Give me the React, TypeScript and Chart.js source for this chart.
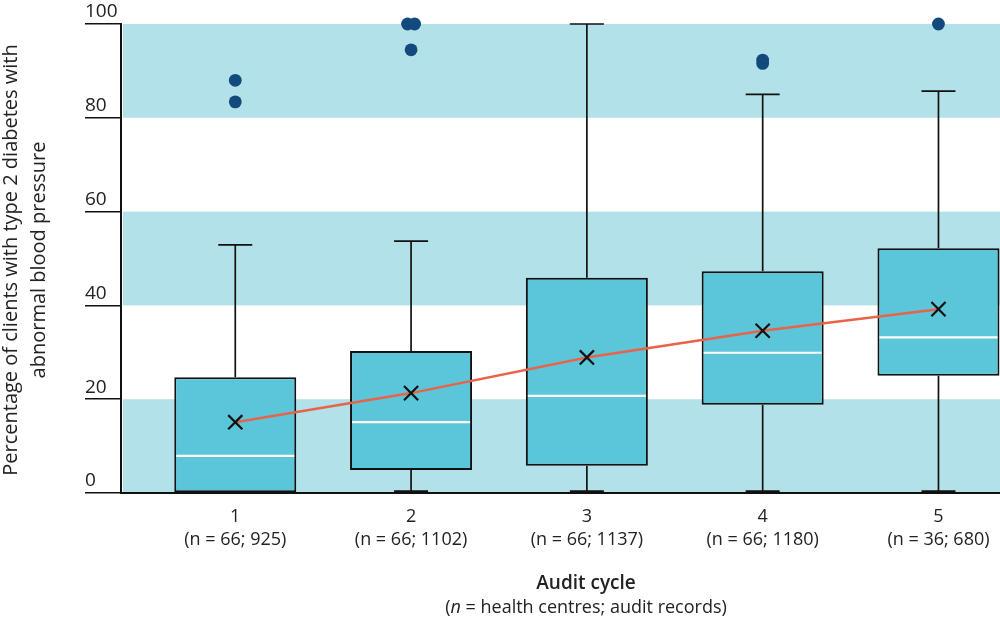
import React, { useEffect, useRef } from "react";
import { Chart, registerables } from "chart.js";

Chart.register(...registerables);

// ---- Data ----
const CATEGORIES = [1, 2, 3, 4, 5];
const CATEGORY_NOTES = ["66; 925", "66; 1102", "66; 1137", "66; 1180", "36; 680"];
const Q1 = [0, 4.9, 5.8, 18.8, 25.0];
const Q3 = [24.7, 30.3, 45.9, 47.3, 52.2];
const MEDIAN = [7.9, 15.1, 20.7, 29.9, 33.2];
const MEAN = [15.1, 21.3, 28.9, 34.6, 39.2];
const WHISKER_LOW = [0, 0, 0, 0, 0];
const WHISKER_HIGH = [52.9, 53.7, 100, 85.0, 85.7];
const OUTLIER_X = [1, 1, 1.98, 2.02, 2, 4, 4, 5];
const OUTLIER_Y = [88.0, 83.4, 100, 100, 94.5, 92.3, 91.6, 100];
const BANDS = [
  [0, 20],
  [40, 60],
  [80, 100],
];
const Y_TICKS = [0, 20, 40, 60, 80, 100];
const X_MIN = 0.35;
const X_MAX = 5.35;

const FONT = "'Open Sans', 'DejaVu Sans', sans-serif";

export default function App() {
  const ref = useRef<HTMLCanvasElement | null>(null);

  useEffect(() => {
    if (!ref.current) return;

    const bandPlugin = {
      id: "bands",
      beforeDraw(chart: any) {
        const { ctx, chartArea, scales } = chart;
        const y = scales.y;
        ctx.save();
        ctx.fillStyle = "#b3e1e9";
        BANDS.forEach(([a, b]) => {
          const y1 = y.getPixelForValue(b);
          const y2 = y.getPixelForValue(a);
          ctx.fillRect(chartArea.left + 2, y1, chartArea.right - chartArea.left - 2, y2 - y1);
        });
        ctx.restore();
      },
    };

    const whiskerPlugin = {
      id: "whiskers",
      beforeDatasetsDraw(chart: any) {
        const { ctx, scales } = chart;
        const xs = scales.x;
        const ys = scales.y;
        const capHalf = 17;
        ctx.save();
        ctx.strokeStyle = "#111";
        ctx.lineWidth = 1.7;
        CATEGORIES.forEach((c, i) => {
          const x = xs.getPixelForValue(c);
          const segs: [number, number][] = [];
          if (WHISKER_HIGH[i] > Q3[i]) segs.push([Q3[i], WHISKER_HIGH[i]]);
          if (WHISKER_LOW[i] < Q1[i]) segs.push([Q1[i], WHISKER_LOW[i]]);
          segs.forEach(([from, to]) => {
            const y1 = ys.getPixelForValue(from);
            const y2 = ys.getPixelForValue(to);
            ctx.beginPath();
            ctx.moveTo(x, y1);
            ctx.lineTo(x, y2);
            ctx.stroke();
            ctx.beginPath();
            ctx.lineWidth = to === 0 ? 2.5 : 1.7;
            ctx.moveTo(x - capHalf, to === 0 ? y2 - 1.5 : y2);
            ctx.lineTo(x + capHalf, to === 0 ? y2 - 1.5 : y2);
            ctx.stroke();
            ctx.lineWidth = 1.7;
          });
        });
        ctx.restore();
      },
      afterDatasetDraw(chart: any, args: any) {
        if (args.index !== 0) return;
        const { ctx, scales } = chart;
        const ys = scales.y;
        const meta = chart.getDatasetMeta(0);
        ctx.save();
        ctx.strokeStyle = "#ffffff";
        ctx.lineWidth = 2.2;
        meta.data.forEach((bar: any, i: number) => {
          const y = ys.getPixelForValue(MEDIAN[i]);
          ctx.beginPath();
          ctx.moveTo(bar.x - bar.width / 2 + 2, y);
          ctx.lineTo(bar.x + bar.width / 2 - 2, y);
          ctx.stroke();
        });
        ctx.restore();
      },
    };

    const chart = new Chart(ref.current, {
      type: "bar",
      data: {
        datasets: [
          {
            type: "bar",
            data: CATEGORIES.map((c, i) => ({ x: c, y: [Q1[i], Q3[i]] })) as any,
            backgroundColor: "#5bc6d9",
            borderColor: "#111",
            borderWidth: 2,
            borderSkipped: false,
            barPercentage: 1,
            categoryPercentage: 0.694,
            order: 3,
          } as any,
          {
            type: "line",
            data: CATEGORIES.map((c, i) => ({ x: c, y: MEAN[i] })),
            borderColor: "#e8634a",
            borderWidth: 2.5,
            pointStyle: "crossRot",
            pointRadius: 10,
            pointBorderColor: "#111",
            pointBorderWidth: 2.2,
            pointBackgroundColor: "rgba(0,0,0,0)",
            tension: 0,
            order: 2,
          } as any,
          {
            type: "scatter",
            data: OUTLIER_X.map((x, i) => ({ x, y: OUTLIER_Y[i] })),
            backgroundColor: "#134a7c",
            borderColor: "#134a7c",
            borderWidth: 0,
            pointRadius: 6.4,
            clip: false,
            order: 1,
          } as any,
        ],
      },
      options: {
        animation: false,
        responsive: false,
        layout: { autoPadding: false, padding: { left: 85, top: 24, right: 0, bottom: 0 } },
        plugins: {
          legend: { display: false },
          tooltip: { enabled: false },
        },
        scales: {
          x: {
            type: "linear",
            min: X_MIN,
            max: X_MAX,
            offset: false,
            afterBuildTicks: (scale: any) => {
              scale.ticks = CATEGORIES.map((v) => ({ value: v }));
            },
            afterFit: (scale: any) => {
              scale.height = 126;
              scale.paddingLeft = 0;
              scale.paddingRight = 0;
            },
            grid: { display: false, drawTicks: false, offset: false },
            border: { display: true, color: "#111", width: 2 },
            ticks: {
              autoSkip: false,
              maxRotation: 0,
              padding: 12,
              color: "#222",
              font: { family: FONT, size: 18, lineHeight: 1.28 },
              callback: (v: any) => {
                const i = CATEGORIES.indexOf(Number(v));
                if (i < 0) return "";
                return [String(CATEGORIES[i]), "(n = " + CATEGORY_NOTES[i] + ")"];
              },
            },
          },
          y: {
            type: "linear",
            min: 0,
            max: 100,
            afterBuildTicks: (scale: any) => {
              scale.ticks = Y_TICKS.map((v) => ({ value: v }));
            },
            afterFit: (scale: any) => {
              scale.width = 36;
              scale.paddingTop = 0;
              scale.paddingBottom = 0;
            },
            grid: {
              drawOnChartArea: false,
              drawTicks: true,
              tickLength: 36,
              color: "#111",
              lineWidth: 1.5,
            },
            border: { display: true, color: "#111", width: 2 },
            ticks: {
              crossAlign: "far",
              labelOffset: -12,
              padding: 0,
              color: "#222",
              font: { family: FONT, size: 19 },
            },
          },
        },
      } as any,
      plugins: [bandPlugin, whiskerPlugin],
    });

    return () => chart.destroy();
  }, []);

  return (
    <div style={{ position: "absolute", left: 0, top: 0, width: 1000, height: 619, background: "#fff" }}>
      <canvas ref={ref} width={1000} height={619} style={{ display: "block" }} />
      <div
        style={{
          position: "absolute",
          left: 26 - 250,
          top: 260 - 30,
          width: 500,
          height: 60,
          transform: "rotate(-90deg)",
          transformOrigin: "center center",
          textAlign: "center",
          fontFamily: FONT,
          fontSize: 20,
          lineHeight: "28px",
          color: "#222",
          whiteSpace: "nowrap",
        }}
      >
        Percentage of clients with type 2 diabetes with
        <br />
        abnormal blood pressure
      </div>
      <div
        style={{
          position: "absolute",
          left: 586 - 250,
          top: 570,
          width: 500,
          textAlign: "center",
          fontFamily: FONT,
          color: "#222",
          whiteSpace: "nowrap",
        }}
      >
        <div style={{ fontSize: 19, fontWeight: 600, lineHeight: "24px" }}>Audit cycle</div>
        <div style={{ fontSize: 18, lineHeight: "24px" }}>
          (<i>n</i> = health centres; audit records)
        </div>
      </div>
    </div>
  );
}
